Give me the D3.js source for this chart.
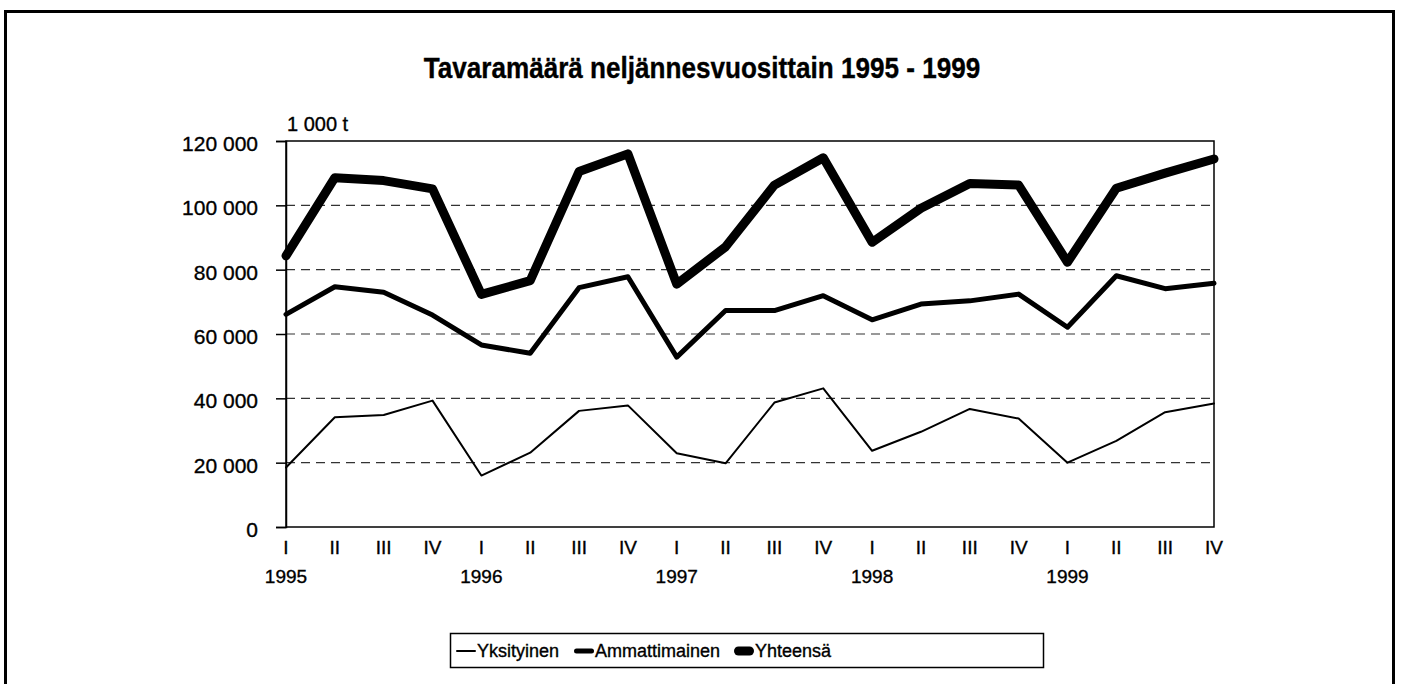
<!DOCTYPE html>
<html>
  <head>
    <meta charset="utf-8">
    <title>Tavaramäärä neljännesvuosittain</title>
    <style>
      body { margin: 0; background: #fff; }
      text { font-family: "Liberation Sans", Arial, sans-serif; fill: #000; stroke: #000; stroke-width: 0.35px; }
    </style>
  </head>
  <body>
    <svg width="1402" height="684"></svg>
    <script src="https://cdn.jsdelivr.net/npm/d3@7"></script>
    <script>
      // data (1 000 t)
      var years = ["1995", "1996", "1997", "1998", "1999"];
      var quarters = ["I", "II", "III", "IV"];
      var yksityinen = [18500, 34100, 34800, 39300, 16000, 23100, 36100, 37800, 22900, 19800,
                        38700, 43100, 23700, 29600, 36700, 33700, 20000, 26800, 35700, 38400];
      var ammattimainen = [66100, 74700, 73000, 65900, 56600, 54000, 74400, 77800, 52800, 67300,
                           67300, 71900, 64400, 69300, 70300, 72400, 62100, 78100, 74100, 75800];
      var yhteensa = [84300, 108600, 107700, 105100, 72300, 76600, 110500, 116000, 75500, 87100,
                      106300, 114800, 88500, 99100, 106800, 106300, 82300, 105300, 110000, 114400];
      var yTicks = [0, 20000, 40000, 60000, 80000, 100000, 120000];

      var categories = [];
      years.forEach(function(y){
        quarters.forEach(function(q){ categories.push({year: y, q: q}); });
      });

      var series = [
        {name: "Yksityinen", values: yksityinen, width: 2},
        {name: "Ammattimainen", values: ammattimainen, width: 5},
        {name: "Yhteensä", values: yhteensa, width: 9}
      ];

      var svg = d3.select("svg");
      var plot = {left: 286, right: 1214, top: 141, bottom: 527};

      var x = d3.scalePoint()
        .domain(d3.range(categories.length))
        .range([plot.left, plot.right]);
      var y = d3.scaleLinear()
        .domain([0, 120000])
        .range([plot.bottom, plot.top]);

      // outer frame
      svg.append("rect")
        .attr("x", 5.5).attr("y", 11.5)
        .attr("width", 1388).attr("height", 720)
        .attr("fill", "none").attr("stroke", "#000").attr("stroke-width", 3);

      // title (condensed by a horizontal scale)
      svg.append("text")
        .attr("transform", "translate(702,78) scale(0.87,1)")
        .attr("text-anchor", "middle")
        .style("font-weight", "bold")
        .style("font-size", "30px")
        .text("Tavaramäärä neljännesvuosittain 1995 - 1999");

      // unit
      svg.append("text")
        .attr("x", 287).attr("y", 131)
        .style("font-size", "20px")
        .text("1 000 t");

      // grid
      svg.append("g")
        .selectAll("line")
        .data(yTicks.filter(function(d){ return d > 0 && d < 120000; }))
        .enter()
        .append("line")
        .attr("x1", plot.left).attr("x2", plot.right)
        .attr("y1", function(d){ return y(d); })
        .attr("y2", function(d){ return y(d); })
        .attr("stroke", "#333")
        .attr("stroke-width", 1.2)
        .attr("stroke-dasharray", "9,6");

      // plot border
      svg.append("rect")
        .attr("x", plot.left).attr("y", plot.top)
        .attr("width", plot.right - plot.left)
        .attr("height", plot.bottom - plot.top)
        .attr("fill", "none").attr("stroke", "#000").attr("stroke-width", 1.5);

      // y axis
      var fmt = function(d){ return d3.format(",")(d).replace(/,/g, " "); };
      var yAxis = svg.append("g")
        .attr("transform", "translate(" + plot.left + ",0)")
        .call(d3.axisLeft(y).tickValues(yTicks).tickSize(10).tickPadding(18).tickFormat(fmt));
      yAxis.select(".domain").attr("stroke-width", 1.5);
      yAxis.selectAll(".tick line").attr("stroke-width", 1.5);
      yAxis.selectAll("text")
        .style("font-family", "'Liberation Sans', Arial, sans-serif")
        .style("font-size", "21px")
        .attr("dy", "0.45em");

      // x labels
      var xl = svg.append("g");
      xl.selectAll(".q")
        .data(categories)
        .enter()
        .append("text")
        .attr("class", "q")
        .attr("x", function(d, i){ return x(i); })
        .attr("y", 554)
        .attr("text-anchor", "middle")
        .style("font-size", "19px")
        .text(function(d){ return d.q; });
      xl.selectAll(".yr")
        .data(categories.filter(function(d){ return d.q === "I"; }))
        .enter()
        .append("text")
        .attr("class", "yr")
        .attr("x", function(d){ return x(categories.indexOf(d)); })
        .attr("y", 583)
        .attr("text-anchor", "middle")
        .style("font-size", "19px")
        .text(function(d){ return d.year; });

      // lines
      var line = d3.line()
        .x(function(d, i){ return x(i); })
        .y(function(d){ return y(d); });
      svg.append("g")
        .selectAll("path")
        .data(series)
        .enter()
        .append("path")
        .attr("d", function(d){ return line(d.values); })
        .attr("fill", "none")
        .attr("stroke", "#000")
        .attr("stroke-width", function(d){ return d.width; })
        .attr("stroke-linejoin", "round")
        .attr("stroke-linecap", "round");

      // legend
      var legend = svg.append("g");
      legend.append("rect")
        .attr("x", 450.5).attr("y", 633.5)
        .attr("width", 593).attr("height", 34)
        .attr("fill", "#fff").attr("stroke", "#000").attr("stroke-width", 1.5);
      var legX = [456, 574, 734];
      var items = legend.selectAll(".item")
        .data(series)
        .enter()
        .append("g")
        .attr("transform", function(d, i){ return "translate(" + legX[i] + ",651)"; });
      items.append("line")
        .attr("x1", function(d){ return d.width / 2; })
        .attr("x2", function(d){ return 20 - d.width / 2; })
        .attr("stroke", "#000")
        .attr("stroke-width", function(d){ return d.width; })
        .attr("stroke-linecap", "round");
      items.append("text")
        .attr("x", 21).attr("dy", "0.36em")
        .style("font-size", "18px")
        .text(function(d){ return d.name; });
    </script>
  </body>
</html>
